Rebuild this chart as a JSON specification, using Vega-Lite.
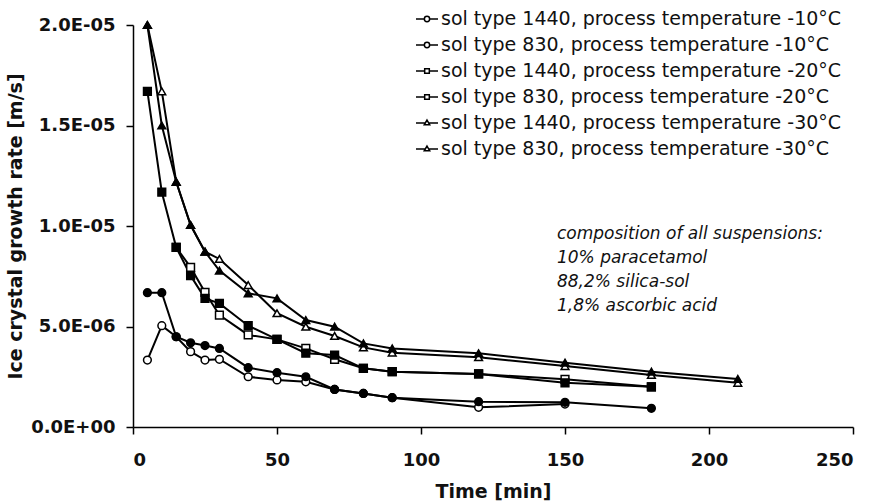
{
  "$schema": "https://vega.github.io/schema/vega-lite/v6.json",
  "width": 720,
  "height": 402,
  "autosize": {"type": "none"},
  "padding": {"left": 133, "top": 25, "right": 24, "bottom": 74},
  "background": "white",
  "config": {
    "view": {"stroke": null},
    "font": "DejaVu Sans",
    "axis": {
      "grid": false,
      "domainColor": "black",
      "domainWidth": 1.5,
      "tickColor": "black",
      "tickWidth": 1.5,
      "tickSize": 7,
      "labelFont": "DejaVu Sans",
      "labelFontWeight": "bold",
      "labelFontSize": 18,
      "labelColor": "#111",
      "titleFont": "DejaVu Sans",
      "titleFontWeight": "bold",
      "titleFontSize": 19,
      "titleColor": "#111"
    }
  },
  "datasets": {
    "series": [
      {"series": "sol type 1440, process temperature -10°C", "time": 5, "rate": 3.33e-6},
      {"series": "sol type 1440, process temperature -10°C", "time": 10, "rate": 5.04e-6},
      {"series": "sol type 1440, process temperature -10°C", "time": 15, "rate": 4.49e-6},
      {"series": "sol type 1440, process temperature -10°C", "time": 20, "rate": 3.75e-6},
      {"series": "sol type 1440, process temperature -10°C", "time": 25, "rate": 3.33e-6},
      {"series": "sol type 1440, process temperature -10°C", "time": 30, "rate": 3.37e-6},
      {"series": "sol type 1440, process temperature -10°C", "time": 40, "rate": 2.5e-6},
      {"series": "sol type 1440, process temperature -10°C", "time": 50, "rate": 2.34e-6},
      {"series": "sol type 1440, process temperature -10°C", "time": 60, "rate": 2.25e-6},
      {"series": "sol type 1440, process temperature -10°C", "time": 70, "rate": 1.87e-6},
      {"series": "sol type 1440, process temperature -10°C", "time": 80, "rate": 1.67e-6},
      {"series": "sol type 1440, process temperature -10°C", "time": 90, "rate": 1.46e-6},
      {"series": "sol type 1440, process temperature -10°C", "time": 120, "rate": 0.98e-6},
      {"series": "sol type 1440, process temperature -10°C", "time": 150, "rate": 1.14e-6},

      {"series": "sol type 1440, process temperature -20°C", "time": 15, "rate": 8.94e-6},
      {"series": "sol type 1440, process temperature -20°C", "time": 20, "rate": 7.94e-6},
      {"series": "sol type 1440, process temperature -20°C", "time": 25, "rate": 6.7e-6},
      {"series": "sol type 1440, process temperature -20°C", "time": 30, "rate": 5.57e-6},
      {"series": "sol type 1440, process temperature -20°C", "time": 40, "rate": 4.58e-6},
      {"series": "sol type 1440, process temperature -20°C", "time": 50, "rate": 4.36e-6},
      {"series": "sol type 1440, process temperature -20°C", "time": 60, "rate": 3.91e-6},
      {"series": "sol type 1440, process temperature -20°C", "time": 70, "rate": 3.37e-6},
      {"series": "sol type 1440, process temperature -20°C", "time": 80, "rate": 2.92e-6},
      {"series": "sol type 1440, process temperature -20°C", "time": 90, "rate": 2.75e-6},
      {"series": "sol type 1440, process temperature -20°C", "time": 120, "rate": 2.64e-6},
      {"series": "sol type 1440, process temperature -20°C", "time": 150, "rate": 2.37e-6},
      {"series": "sol type 1440, process temperature -20°C", "time": 180, "rate": 2.0e-6},

      {"series": "sol type 1440, process temperature -30°C", "time": 5, "rate": 2.0e-5},
      {"series": "sol type 1440, process temperature -30°C", "time": 10, "rate": 1.67e-5},
      {"series": "sol type 1440, process temperature -30°C", "time": 15, "rate": 1.22e-5},
      {"series": "sol type 1440, process temperature -30°C", "time": 20, "rate": 1.005e-5},
      {"series": "sol type 1440, process temperature -30°C", "time": 25, "rate": 8.72e-6},
      {"series": "sol type 1440, process temperature -30°C", "time": 30, "rate": 8.36e-6},
      {"series": "sol type 1440, process temperature -30°C", "time": 40, "rate": 7.06e-6},
      {"series": "sol type 1440, process temperature -30°C", "time": 50, "rate": 5.66e-6},
      {"series": "sol type 1440, process temperature -30°C", "time": 60, "rate": 4.99e-6},
      {"series": "sol type 1440, process temperature -30°C", "time": 70, "rate": 4.53e-6},
      {"series": "sol type 1440, process temperature -30°C", "time": 80, "rate": 3.96e-6},
      {"series": "sol type 1440, process temperature -30°C", "time": 90, "rate": 3.7e-6},
      {"series": "sol type 1440, process temperature -30°C", "time": 120, "rate": 3.47e-6},
      {"series": "sol type 1440, process temperature -30°C", "time": 150, "rate": 3.03e-6},
      {"series": "sol type 1440, process temperature -30°C", "time": 180, "rate": 2.59e-6},
      {"series": "sol type 1440, process temperature -30°C", "time": 210, "rate": 2.2e-6},

      {"series": "sol type 830, process temperature -10°C", "time": 5, "rate": 6.68e-6},
      {"series": "sol type 830, process temperature -10°C", "time": 10, "rate": 6.68e-6},
      {"series": "sol type 830, process temperature -10°C", "time": 15, "rate": 4.49e-6},
      {"series": "sol type 830, process temperature -10°C", "time": 20, "rate": 4.19e-6},
      {"series": "sol type 830, process temperature -10°C", "time": 25, "rate": 4.05e-6},
      {"series": "sol type 830, process temperature -10°C", "time": 30, "rate": 3.91e-6},
      {"series": "sol type 830, process temperature -10°C", "time": 40, "rate": 2.95e-6},
      {"series": "sol type 830, process temperature -10°C", "time": 50, "rate": 2.7e-6},
      {"series": "sol type 830, process temperature -10°C", "time": 60, "rate": 2.5e-6},
      {"series": "sol type 830, process temperature -10°C", "time": 70, "rate": 1.87e-6},
      {"series": "sol type 830, process temperature -10°C", "time": 80, "rate": 1.67e-6},
      {"series": "sol type 830, process temperature -10°C", "time": 90, "rate": 1.46e-6},
      {"series": "sol type 830, process temperature -10°C", "time": 120, "rate": 1.26e-6},
      {"series": "sol type 830, process temperature -10°C", "time": 150, "rate": 1.23e-6},
      {"series": "sol type 830, process temperature -10°C", "time": 180, "rate": 0.93e-6},

      {"series": "sol type 830, process temperature -20°C", "time": 5, "rate": 1.67e-5},
      {"series": "sol type 830, process temperature -20°C", "time": 10, "rate": 1.168e-5},
      {"series": "sol type 830, process temperature -20°C", "time": 15, "rate": 8.94e-6},
      {"series": "sol type 830, process temperature -20°C", "time": 20, "rate": 7.53e-6},
      {"series": "sol type 830, process temperature -20°C", "time": 25, "rate": 6.4e-6},
      {"series": "sol type 830, process temperature -20°C", "time": 30, "rate": 6.15e-6},
      {"series": "sol type 830, process temperature -20°C", "time": 40, "rate": 5.04e-6},
      {"series": "sol type 830, process temperature -20°C", "time": 50, "rate": 4.36e-6},
      {"series": "sol type 830, process temperature -20°C", "time": 60, "rate": 3.67e-6},
      {"series": "sol type 830, process temperature -20°C", "time": 70, "rate": 3.58e-6},
      {"series": "sol type 830, process temperature -20°C", "time": 80, "rate": 2.92e-6},
      {"series": "sol type 830, process temperature -20°C", "time": 90, "rate": 2.75e-6},
      {"series": "sol type 830, process temperature -20°C", "time": 120, "rate": 2.64e-6},
      {"series": "sol type 830, process temperature -20°C", "time": 150, "rate": 2.2e-6},
      {"series": "sol type 830, process temperature -20°C", "time": 180, "rate": 2.0e-6},

      {"series": "sol type 830, process temperature -30°C", "time": 5, "rate": 2.0e-5},
      {"series": "sol type 830, process temperature -30°C", "time": 10, "rate": 1.5e-5},
      {"series": "sol type 830, process temperature -30°C", "time": 15, "rate": 1.22e-5},
      {"series": "sol type 830, process temperature -30°C", "time": 20, "rate": 1.005e-5},
      {"series": "sol type 830, process temperature -30°C", "time": 25, "rate": 8.72e-6},
      {"series": "sol type 830, process temperature -30°C", "time": 30, "rate": 7.78e-6},
      {"series": "sol type 830, process temperature -30°C", "time": 40, "rate": 6.65e-6},
      {"series": "sol type 830, process temperature -30°C", "time": 50, "rate": 6.4e-6},
      {"series": "sol type 830, process temperature -30°C", "time": 60, "rate": 5.32e-6},
      {"series": "sol type 830, process temperature -30°C", "time": 70, "rate": 4.99e-6},
      {"series": "sol type 830, process temperature -30°C", "time": 80, "rate": 4.16e-6},
      {"series": "sol type 830, process temperature -30°C", "time": 90, "rate": 3.91e-6},
      {"series": "sol type 830, process temperature -30°C", "time": 120, "rate": 3.67e-6},
      {"series": "sol type 830, process temperature -30°C", "time": 150, "rate": 3.2e-6},
      {"series": "sol type 830, process temperature -30°C", "time": 180, "rate": 2.75e-6},
      {"series": "sol type 830, process temperature -30°C", "time": 210, "rate": 2.39e-6}
    ]
  },
  "resolve": {"scale": {"shape": "independent"}, "legend": {"shape": "independent"}},
  "layer": [
    {
      "data": {"name": "series"},
      "mark": {"type": "line", "stroke": "black", "strokeWidth": 2},
      "encoding": {
        "x": {
          "field": "time",
          "type": "quantitative",
          "scale": {"domain": [0, 250], "nice": false},
          "axis": {"title": "Time [min]", "values": [0, 50, 100, 150, 200, 250], "labelPadding": 17, "titlePadding": 13}
        },
        "y": {
          "field": "rate",
          "type": "quantitative",
          "scale": {"domain": [0, 2e-5], "nice": false},
          "axis": {
            "title": "Ice crystal growth rate [m/s]",
            "values": [0, 5e-6, 1e-5, 1.5e-5, 2e-5],
            "labelExpr": "replace(replace(format(datum.value, '.1e'), 'e-', 'E-0'), 'e+', 'E+0')",
            "labelPadding": 11,
            "titlePadding": 5
          }
        },
        "detail": {"field": "series"}
      }
    },
    {
      "data": {"name": "series"},
      "mark": {"type": "point", "stroke": "black", "strokeWidth": 1.5, "opacity": 1, "size": 60},
      "encoding": {
        "x": {"field": "time", "type": "quantitative"},
        "y": {"field": "rate", "type": "quantitative"},
        "shape": {
          "field": "series",
          "type": "nominal",
          "scale": {
            "domain": [
              "sol type 1440, process temperature -10°C",
              "sol type 830, process temperature -10°C",
              "sol type 1440, process temperature -20°C",
              "sol type 830, process temperature -20°C",
              "sol type 1440, process temperature -30°C",
              "sol type 830, process temperature -30°C"
            ],
            "range": ["circle", "circle", "square", "square", "triangle-up", "triangle-up"]
          },
          "legend": null
        },
        "fill": {
          "field": "series",
          "type": "nominal",
          "scale": {
            "domain": [
              "sol type 1440, process temperature -10°C",
              "sol type 830, process temperature -10°C",
              "sol type 1440, process temperature -20°C",
              "sol type 830, process temperature -20°C",
              "sol type 1440, process temperature -30°C",
              "sol type 830, process temperature -30°C"
            ],
            "range": ["white", "black", "white", "black", "white", "black"]
          },
          "legend": null
        }
      }
    },
    {
      "data": {"name": "series"},
      "mark": {"type": "point", "stroke": "black", "strokeWidth": 1.5, "opacity": 0, "size": 1},
      "encoding": {
        "x": {"field": "time", "type": "quantitative"},
        "y": {"field": "rate", "type": "quantitative"},
        "shape": {
          "field": "series",
          "type": "nominal",
          "scale": {
            "domain": [
              "sol type 1440, process temperature -10°C",
              "sol type 830, process temperature -10°C",
              "sol type 1440, process temperature -20°C",
              "sol type 830, process temperature -20°C",
              "sol type 1440, process temperature -30°C",
              "sol type 830, process temperature -30°C"
            ],
            "range": [
              "M-1,0H-0.24M0.24,0H1M-0.24,0A0.24,0.24 0 1,0 0.24,0A0.24,0.24 0 1,0 -0.24,0Z",
              "M-1,0H-0.24M0.24,0H1M-0.24,0A0.24,0.24 0 1,0 0.24,0A0.24,0.24 0 1,0 -0.24,0Z",
              "M-1,0H-0.21M0.21,0H1M-0.21,-0.21H0.21V0.21H-0.21Z",
              "M-1,0H-0.21M0.21,0H1M-0.21,-0.21H0.21V0.21H-0.21Z",
              "M-1,0H-0.15M0.15,0H1M0,-0.27L0.25,0.17L-0.25,0.17Z",
              "M-1,0H-0.15M0.15,0H1M0,-0.27L0.25,0.17L-0.25,0.17Z"
            ]
          },
          "legend": {
            "orient": "none",
            "legendX": 282,
            "legendY": -18,
            "title": null,
            "padding": 0,
            "labelFont": "DejaVu Sans",
            "labelFontSize": 19,
            "labelColor": "#111",
            "labelLimit": 0,
            "labelOffset": 2,
            "symbolSize": 484,
            "rowPadding": 4,
            "encode": {
              "symbols": {
                "fill": {"condition": {"test": "test(/830/, datum.value)", "value": "black"}, "value": "white"},
                "stroke": {"value": "black"},
                "strokeWidth": {"value": 1.5},
                "opacity": {"value": 1}
              }
            }
          }
        }
      }
    },
    {
      "data": {"values": [{}]},
      "mark": {
        "type": "text",
        "font": "DejaVu Sans",
        "fontStyle": "italic",
        "fontSize": 17,
        "lineHeight": 24,
        "align": "left",
        "baseline": "alphabetic",
        "fill": "#111",
        "text": ["composition of all suspensions:", "10% paracetamol", "88,2% silica-sol", "1,8% ascorbic acid"]
      },
      "encoding": {
        "x": {"datum": 147.2, "type": "quantitative"},
        "y": {"datum": 9.35e-6, "type": "quantitative"}
      }
    }
  ]
}
